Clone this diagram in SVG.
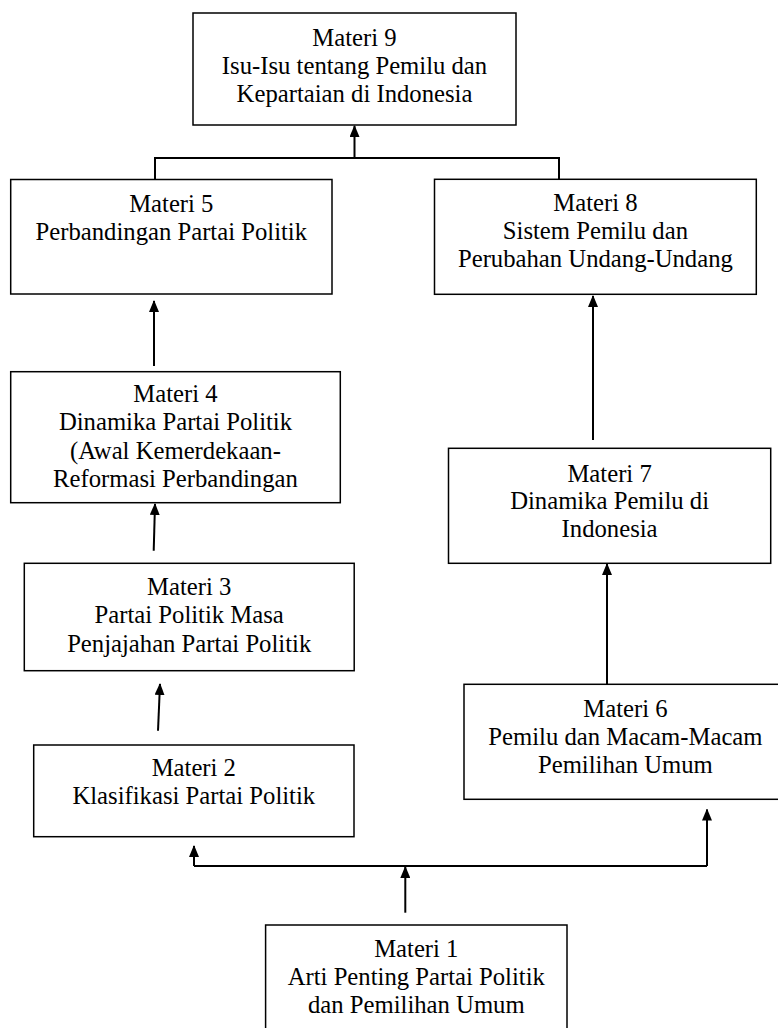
<svg xmlns="http://www.w3.org/2000/svg" width="778" height="1028" viewBox="0 0 778 1028">
<style>
.box{fill:#fff;stroke:#000;stroke-width:1.5}
.ln{fill:none;stroke:#000;stroke-width:2}
.t{font-family:"Liberation Serif","Times New Roman",serif;font-size:24.7px;fill:#000;text-anchor:middle}
</style>
<defs>
<marker id="ah" viewBox="0 0 12 10" refX="11" refY="5" markerWidth="12" markerHeight="10" markerUnits="userSpaceOnUse" orient="auto">
<path d="M0,0 L12,5 L0,10 Z" fill="#000"/>
</marker>
</defs>
<rect width="778" height="1028" fill="#fff"/>
<g id="connectors">
<polyline class="ln" points="155,179.5 155,158 559,158 559,179.5"/>
<line class="ln" x1="354.5" y1="158" x2="354.5" y2="126" marker-end="url(#ah)"/>
<line class="ln" x1="154" y1="366" x2="154" y2="301" marker-end="url(#ah)"/>
<line class="ln" x1="153.7" y1="550.7" x2="155" y2="504" marker-end="url(#ah)"/>
<line class="ln" x1="158" y1="730.7" x2="160" y2="684" marker-end="url(#ah)"/>
<line class="ln" x1="593" y1="440" x2="593" y2="296" marker-end="url(#ah)"/>
<line class="ln" x1="607" y1="684" x2="607" y2="564" marker-end="url(#ah)"/>
<line class="ln" x1="405.3" y1="912.7" x2="405.3" y2="867" marker-end="url(#ah)"/>
<polyline class="ln" points="194,866 707,866"/>
<line class="ln" x1="194" y1="866" x2="194" y2="846" marker-end="url(#ah)"/>
<line class="ln" x1="707" y1="866" x2="707" y2="809.5" marker-end="url(#ah)"/>
</g>
<g id="materi9">
<rect class="box" x="193" y="13" width="323" height="112"/>
<text class="t" x="354.5" y="46">Materi 9</text>
<text class="t" x="354.5" y="74">Isu-Isu tentang Pemilu dan</text>
<text class="t" x="354.5" y="102">Kepartaian di Indonesia</text>
</g>
<g id="materi5">
<rect class="box" x="10.7" y="179.5" width="321.3" height="114.5"/>
<text class="t" x="171.3" y="211.7">Materi 5</text>
<text class="t" x="171.3" y="240">Perbandingan Partai Politik</text>
</g>
<g id="materi8">
<rect class="box" x="434.5" y="179.3" width="321.8" height="115"/>
<text class="t" x="595.4" y="211">Materi 8</text>
<text class="t" x="595.4" y="239">Sistem Pemilu dan</text>
<text class="t" x="595.4" y="266.7">Perubahan Undang-Undang</text>
</g>
<g id="materi4">
<rect class="box" x="10.7" y="371.7" width="329.6" height="131"/>
<text class="t" x="175.5" y="401.5">Materi 4</text>
<text class="t" x="175.5" y="430">Dinamika Partai Politik</text>
<text class="t" x="175.5" y="458.5">(Awal Kemerdekaan-</text>
<text class="t" x="175.5" y="487">Reformasi Perbandingan</text>
</g>
<g id="materi7">
<rect class="box" x="448.5" y="448.3" width="322.2" height="115"/>
<text class="t" x="609.6" y="481.5">Materi 7</text>
<text class="t" x="609.6" y="509">Dinamika Pemilu di</text>
<text class="t" x="609.6" y="537">Indonesia</text>
</g>
<g id="materi3">
<rect class="box" x="24.3" y="563.3" width="329.9" height="107.4"/>
<text class="t" x="189.2" y="595">Materi 3</text>
<text class="t" x="189.2" y="623.3">Partai Politik Masa</text>
<text class="t" x="189.2" y="651.7">Penjajahan Partai Politik</text>
</g>
<g id="materi2">
<rect class="box" x="33.7" y="745" width="320.3" height="91.7"/>
<text class="t" x="193.8" y="776">Materi 2</text>
<text class="t" x="193.8" y="804.3">Klasifikasi Partai Politik</text>
</g>
<g id="materi6">
<rect class="box" x="464" y="684.3" width="323" height="115"/>
<text class="t" x="625.4" y="716.7">Materi 6</text>
<text class="t" x="625.4" y="745">Pemilu dan Macam-Macam</text>
<text class="t" x="625.4" y="773.3">Pemilihan Umum</text>
</g>
<g id="materi1">
<rect class="box" x="265.6" y="925" width="301.4" height="120"/>
<text class="t" x="416.3" y="957.3">Materi 1</text>
<text class="t" x="416.3" y="985">Arti Penting Partai Politik</text>
<text class="t" x="416.3" y="1013.3">dan Pemilihan Umum</text>
</g>
</svg>
